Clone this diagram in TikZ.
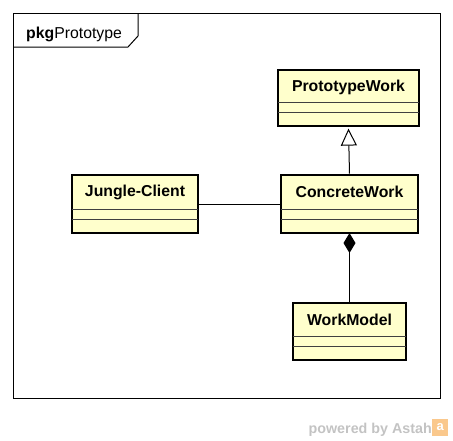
\documentclass[tikz,border=0pt]{standalone}
\usepackage{fontspec}
\setmainfont{Liberation Sans}
\usetikzlibrary{arrows.meta,calc}
\definecolor{clsfill}{RGB}{255,255,204}
\definecolor{wmgray}{RGB}{195,195,195}
\definecolor{logoor}{RGB}{250,200,140}
\tikzset{
  cls/.style={draw=black, line width=2.6pt, fill=clsfill, rectangle, inner sep=0pt},
  clsname/.style={font=\fontsize{15.8}{18}\selectfont\bfseries, inner sep=0pt},
  comp/.style={draw=black!75, line width=1pt},
  conn/.style={draw=black, line width=1pt},
}
\begin{document}
\begin{tikzpicture}[x=1pt,y=-1pt]
\useasboundingbox (0,0) rectangle (453,440);
% package frame
\draw[line width=1pt] (13,13) rectangle (440,398);
\draw[line width=1pt] (13,47) -- (128,47) -- (138,36) -- (138,13);
\node[anchor=base west, inner sep=0pt, font=\fontsize{15.8}{18}\selectfont] (pkg) at (26,38.5) {\textbf{pkg}Prototype};
% classes
\node[cls, minimum width=141pt, minimum height=56pt] (pw) at (348.5,98) {};
\node[cls, minimum width=137pt, minimum height=58pt] (cw) at (349.5,204) {};
\node[cls, minimum width=126pt, minimum height=58pt] (jc) at (135,204) {};
\node[cls, minimum width=113pt, minimum height=57pt] (wm) at (349.5,331.5) {};
% compartments
\foreach \n in {pw,cw,jc,wm}{
  \draw[comp] ($(\n.south west)+(1.3,-25)$) -- ($(\n.south east)+(-1.3,-25)$);
  \draw[comp] ($(\n.south west)+(1.3,-14.5)$) -- ($(\n.south east)+(-1.3,-14.5)$);
}
% names
\node[clsname] (pwl) at ($(pw.north)+(0,18.5)$) {PrototypeWork};
\node[clsname] (cwl) at ($(cw.north)+(0,18.5)$) {ConcreteWork};
\node[clsname] (jcl) at ($(jc.north)+(0,18.5)$) {Jungle-Client};
\node[clsname] (wml) at ($(wm.north)+(0,18.5)$) {WorkModel};
% connectors
\draw[conn, -{Triangle[open, width=16pt, length=17pt, line width=1pt]}] (cw.north) -- ($(pw.south)+(0,1.3)$);
\draw[conn, {Diamond[width=12pt, length=20pt]}-] ($(cw.south)+(0,-1.3)$) -- (wm.north);
\draw[conn] (jc.east) -- (cw.west);
% watermark
\node[anchor=base east, inner sep=0pt, text=wmgray, font=\fontsize{14.3}{16}\selectfont\bfseries] (pw1) at (432,433) {powered by Astah};
\node[anchor=south west, fill=logoor, minimum width=16pt, minimum height=17pt, inner sep=0pt, text=white, font=\fontsize{13}{14}\selectfont\bfseries] (logo) at (432,436) {a};
\end{tikzpicture}
\end{document}
